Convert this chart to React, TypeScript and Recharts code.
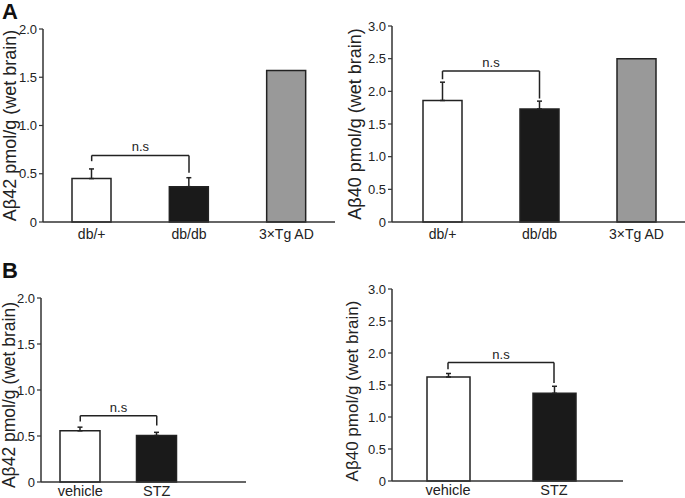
import { BarChart, Bar, XAxis, YAxis, Cell, ErrorBar, ReferenceLine } from "recharts";

// panel A: db/+ vs db/db vs 3xTg AD
const groupsA = ["db/+", "db/db", "3×Tg AD"];
const ab42A = [0.45, 0.366, 1.57];
const ab42AErr = [0.1, 0.093, 0];
const ab40A = [1.86, 1.73, 2.5];
const ab40AErr = [0.28, 0.12, 0];

// panel B: vehicle vs STZ
const groupsB = ["vehicle", "STZ"];
const ab42B = [0.556, 0.505];
const ab42BErr = [0.04, 0.035];
const ab40B = [1.625, 1.37];
const ab40BErr = [0.055, 0.11];

const ticks2 = [0, 0.5, 1, 1.5, 2];
const ticks3 = [0, 0.5, 1, 1.5, 2, 2.5, 3];

// significance brackets: [bar level, left leg end, right leg end]
const bracketA42 = [0.69, 0.63, 0.51];
const bracketA40 = [2.31, 2.185, 1.89];
const bracketB42 = [0.72, 0.657, 0.613];
const bracketB40 = [1.85, 1.745, 1.53];

const fills = ["#ffffff", "#1a1a1a", "#999999"];
const ink = "#222";
const font = "'Liberation Sans', Arial, sans-serif";

const fmt = (v: number) => (v === 0 ? "0" : v.toFixed(1));

const YLabel = ({ viewBox, value, dx, dy, size }: any) => {
  const cx = viewBox.x + dx;
  const cy = viewBox.y + viewBox.height / 2 + dy;
  return (
    <text
      x={cx}
      y={cy}
      transform={`rotate(-90 ${cx} ${cy})`}
      textAnchor="middle"
      fontSize={size}
      fill={ink}
    >
      {value}
    </text>
  );
};

type PanelProps = {
  left: number;
  top: number;
  width: number;
  height: number;
  margin: { top: number; right: number; left: number; bottom: number };
  yWidth: number;
  xHeight: number;
  xPad: { left: number; right: number };
  tickMargin: number;
  xFont: number;
  groups: string[];
  values: number[];
  errors: number[];
  bracket: number[];
  max: number;
  ticks: number[];
  label: string;
  labelDx: number;
  labelDy: number;
  labelSize: number;
  barSize: number;
};

const Panel = (p: PanelProps) => {
  const data = p.groups.map((g, i) => ({
    name: g,
    value: p.values[i],
    err: p.errors[i] > 0 ? [0, p.errors[i]] : null,
  }));
  const [by, l, r] = p.bracket;
  const a = p.groups[0];
  const b = p.groups[1];
  return (
    <div style={{ position: "absolute", left: p.left, top: p.top, fontFamily: font }}>
      <BarChart width={p.width} height={p.height} data={data} margin={p.margin}>
        <XAxis
          dataKey="name"
          height={p.xHeight}
          padding={p.xPad}
          tickLine={false}
          tickSize={0}
          tickMargin={p.tickMargin}
          axisLine={{ stroke: "#333", strokeWidth: 1.5 }}
          tick={{ fill: ink, fontSize: p.xFont }}
          interval={0}
        />
        <YAxis
          width={p.yWidth}
          domain={[0, p.max]}
          ticks={p.ticks}
          tickFormatter={fmt}
          tickSize={4}
          tickMargin={2}
          axisLine={{ stroke: "#333", strokeWidth: 1.5 }}
          tickLine={{ stroke: "#333", strokeWidth: 1.2 }}
          tick={{ fill: ink, fontSize: 13 }}
          label={(props: any) => (
            <YLabel {...props} value={p.label} dx={p.labelDx} dy={p.labelDy} size={p.labelSize} />
          )}
        />
        <Bar dataKey="value" barSize={p.barSize} stroke={ink} strokeWidth={1.5} isAnimationActive={false}>
          {data.map((d, i) => (
            <Cell key={`cell-${i}`} fill={fills[i]} />
          ))}
          <ErrorBar dataKey="err" width={2.5} stroke={ink} strokeWidth={1.5} isAnimationActive={false} />
        </Bar>
        <ReferenceLine
          segment={[{ x: a, y: by }, { x: b, y: by }]}
          stroke={ink}
          strokeWidth={1.5}
          label={{ value: "n.s", position: "top", offset: 4, fontSize: 13, fill: ink }}
        />
        <ReferenceLine segment={[{ x: a, y: by }, { x: a, y: l }]} stroke={ink} strokeWidth={1.5} />
        <ReferenceLine segment={[{ x: b, y: by }, { x: b, y: r }]} stroke={ink} strokeWidth={1.5} />
      </BarChart>
    </div>
  );
};

export default function App() {
  return (
    <div style={{ position: "absolute", left: 0, top: 0, width: 685, height: 498, background: "#fff", overflow: "hidden" }}>
      <Panel
        left={0} top={0} width={340} height={260}
        margin={{ top: 29, right: 5, left: 0, bottom: 0 }}
        yWidth={43} xHeight={38} xPad={{ left: 0, right: 0 }} tickMargin={7} xFont={14}
        groups={groupsA} values={ab42A} errors={ab42AErr} bracket={bracketA42}
        max={2} ticks={ticks2}
        label="Aβ42 pmol/g (wet brain)" labelDx={16} labelDy={0} labelSize={18} barSize={39}
      />
      <Panel
        left={340} top={0} width={345} height={260}
        margin={{ top: 26, right: 0, left: 0, bottom: 0 }}
        yWidth={52} xHeight={38} xPad={{ left: 2, right: 0 }} tickMargin={7} xFont={14}
        groups={groupsA} values={ab40A} errors={ab40AErr} bracket={bracketA40}
        max={3} ticks={ticks3}
        label="Aβ40 pmol/g (wet brain)" labelDx={21} labelDy={0} labelSize={18} barSize={39}
      />
      <Panel
        left={0} top={260} width={340} height={238}
        margin={{ top: 38, right: 94, left: 0, bottom: 0 }}
        yWidth={41} xHeight={16} xPad={{ left: 1, right: 51 }} tickMargin={4} xFont={14.5}
        groups={groupsB} values={ab42B} errors={ab42BErr} bracket={bracketB42}
        max={2} ticks={ticks2}
        label="Aβ42 pmol/g (wet brain)" labelDx={15} labelDy={5} labelSize={17.5} barSize={40}
      />
      <Panel
        left={340} top={260} width={345} height={238}
        margin={{ top: 29, right: 62, left: 0, bottom: 0 }}
        yWidth={52} xHeight={17} xPad={{ left: 3, right: 16 }} tickMargin={4} xFont={14.5}
        groups={groupsB} values={ab40B} errors={ab40BErr} bracket={bracketB40}
        max={3} ticks={ticks3}
        label="Aβ40 pmol/g (wet brain)" labelDx={18} labelDy={6} labelSize={17} barSize={43}
      />
      <svg width={685} height={498} style={{ position: "absolute", left: 0, top: 0, pointerEvents: "none", fontFamily: font }}>
        <text x={2} y={19} fontSize={22} fontWeight="bold" fill="#111">A</text>
        <text x={2} y={278} fontSize={22} fontWeight="bold" fill="#111">B</text>
      </svg>
    </div>
  );
}
